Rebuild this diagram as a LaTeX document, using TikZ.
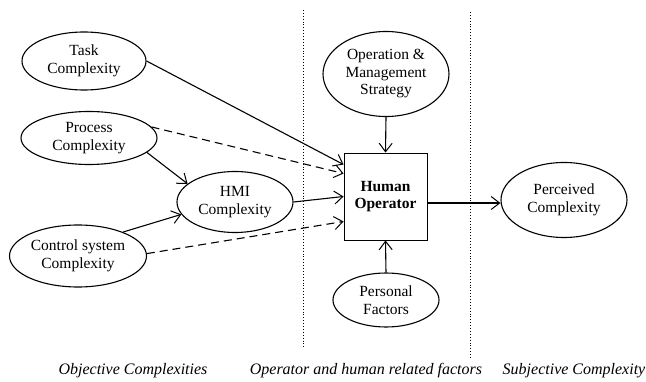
\documentclass[tikz,border=0pt]{standalone}
\usepackage{fontspec}
\setmainfont{Liberation Serif}
\usetikzlibrary{arrows.meta,shapes.geometric}
\begin{document}
\begin{tikzpicture}[x=1pt,y=-1pt,
  ell/.style={draw,line width=1.1pt,ellipse,align=center,font=\fontsize{15.5}{17.5}\selectfont,inner sep=0pt},
  arr/.style={line width=1.1pt,-{Straight Barb[length=8.5pt,width=13pt,line width=1pt]}},
  darr/.style={arr,dash pattern=on 8pt off 5pt},
  sep/.style={line width=0.9pt,dotted},
  lab/.style={font=\fontsize{16}{18}\selectfont\itshape}]
\useasboundingbox (0,0) rectangle (646,382);
\node[ell, minimum width=124pt, minimum height=58pt] (task) at (84,61) {Task\\Complexity};
\node[ell, minimum width=136pt, minimum height=53pt] (proc) at (89,138) {Process\\Complexity};
\node[ell, minimum width=116pt, minimum height=61pt] (hmi) at (235,202) {HMI\\Complexity};
\node[ell, minimum width=137pt, minimum height=62pt] (ctrl) at (78,256) {Control system\\Complexity};
\node[ell, minimum width=126pt, minimum height=85pt] (oms) at (386,74) {Operation \&\\Management\\Strategy};
\node[draw,line width=0.9pt,minimum width=83pt,minimum height=87pt,align=center,font=\fontsize{15.5}{17.5}\selectfont\bfseries] (op) at (385.5,196.5) {Human\\Operator};
\node[ell, minimum width=126pt, minimum height=75pt] (perc) at (564,200) {Perceived\\Complexity};
\node[ell, minimum width=106pt, minimum height=54pt] (pers) at (386,300) {Personal\\Factors};
\coordinate (s1t) at (303,10); \coordinate (s1b) at (303,347);
\coordinate (s2t) at (470,12); \coordinate (s2b) at (470,358);
\draw[sep] (s1t) -- (s1b);
\draw[sep] (s2t) -- (s2b);
\draw[arr] (task.east) -- ([yshift=-12pt]op.north west);
\draw[darr] (proc.10) -- ([yshift=23pt]op.west);
\draw[arr] (hmi.east) -- (op.west);
\draw[darr] (ctrl.2) -- ([yshift=-25pt]op.west);
\draw[arr] (proc.-14) -- (hmi.159);
\draw[arr] (ctrl.28) -- (hmi.193);
\draw[arr] (oms.south) -- (op.north);
\draw[arr] (pers.north) -- (op.south);
\draw[arr] ([yshift=-6.5pt]op.east) -- ([yshift=-3pt]perc.west);
\node[lab] (l1) at (133,371) {Objective Complexities};
\node[lab] (l2) at (366,371) {Operator and human related factors};
\node[lab] (l3) at (574,371) {Subjective Complexity};
\end{tikzpicture}
\end{document}
